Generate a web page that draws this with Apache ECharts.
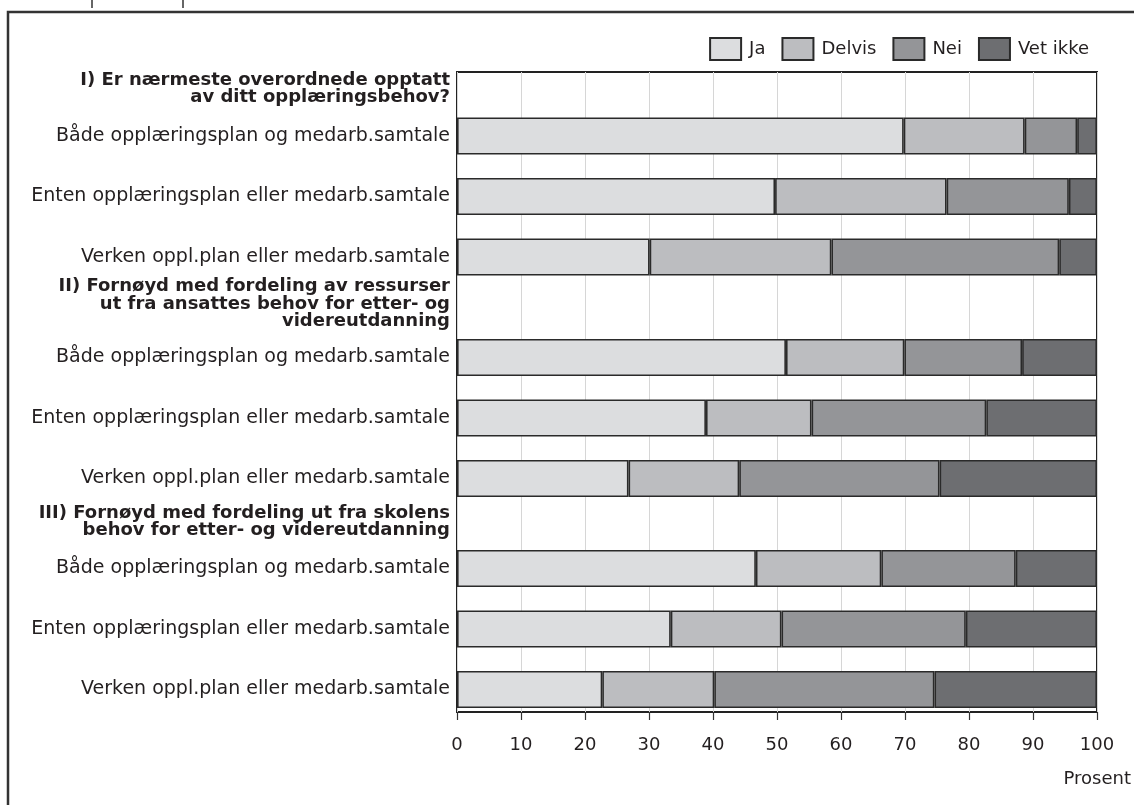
<!DOCTYPE html>
<html>
<head>
<meta charset="utf-8">
<script src="https://cdn.jsdelivr.net/npm/echarts@6/dist/echarts.min.js"></script>
<style>
html,body{margin:0;padding:0;background:#fff;}
#chart{width:1134px;height:805px;}
</style>
</head>
<body>
<div id="chart"></div>
<script>
const answers = ['Ja', 'Delvis', 'Nei', 'Vet ikke'];
const rowLabels = ['Både opplæringsplan og medarb.samtale', 'Enten opplæringsplan eller medarb.samtale', 'Verken oppl.plan eller medarb.samtale'];
const groupTitles = [
  'I) Er nærmeste overordnede opptatt\nav ditt opplæringsbehov?',
  'II) Fornøyd med fordeling av ressurser\nut fra ansattes behov for etter- og\nvidereutdanning',
  'III) Fornøyd med fordeling ut fra skolens\nbehov for etter- og videreutdanning'
];
const ja      = [69.8, 49.7, 30.1, 51.4, 38.9, 26.8, 46.7, 33.4, 22.7];
const delvis  = [18.9, 26.8, 28.4, 18.5, 16.5, 17.3, 19.6, 17.3, 17.5];
const nei     = [8.2, 19.1, 35.6, 18.4, 27.3, 31.3, 21.0, 28.8, 34.4];
const vetIkke = [3.1, 4.4, 5.9, 11.7, 17.3, 24.6, 12.7, 20.5, 25.4];
const xTicks = [0, 10, 20, 30, 40, 50, 60, 70, 80, 90, 100];

const colors = ['#dcdddf', '#bcbdc0', '#949598', '#6d6e71'];
const seriesValues = [ja, delvis, nei, vetIkke];
const FONT = 'DejaVu Sans';
const TXT = '#231f20';

const chart = echarts.init(document.getElementById('chart'), null, {renderer: 'canvas'});

const L = 457, R = 37;
const groupTops = [105.75, 327.25, 538.25];
const groupH = 181.5;
const titleY = [89, 304, 522];

const grids = [{left: L, right: R, top: 72, bottom: 93, show: true, borderColor: '#222', borderWidth: 2, backgroundColor: 'transparent'}];
const xAxes = [{
  gridIndex: 0, type: 'value', min: 0, max: 100, interval: 10, offset: 2,
  axisLine: {show: false},
  axisTick: {show: true, length: 8, lineStyle: {color: '#333', width: 1.2}},
  axisLabel: {margin: 22, fontFamily: FONT, fontSize: 18, color: TXT,
    formatter: v => xTicks.indexOf(v) >= 0 ? String(v) : ''},
  splitLine: {show: true, lineStyle: {color: '#d6d6d6', width: 1}}
}];
const yAxes = [{gridIndex: 0, type: 'value', show: false}];
const series = [];

for (let g = 0; g < 3; g++) {
  grids.push({left: L, right: R, top: groupTops[g], height: groupH});
  xAxes.push({gridIndex: g + 1, type: 'value', min: 0, max: 100, show: false});
  yAxes.push({
    gridIndex: g + 1, type: 'category', inverse: true, data: rowLabels,
    axisLine: {show: false}, axisTick: {show: false}, splitLine: {show: false},
    axisLabel: {margin: 7, fontFamily: FONT, fontSize: 19, color: TXT}
  });
  for (let k = 0; k < 4; k++) {
    series.push({
      type: 'bar', name: answers[k], stack: 'g' + g,
      xAxisIndex: g + 1, yAxisIndex: g + 1, barWidth: 37,
      itemStyle: {color: colors[k], borderColor: '#2a2a2a', borderWidth: 1.6},
      data: seriesValues[k].slice(g * 3, g * 3 + 3),
      animation: false
    });
  }
}

const graphics = [
  {type: 'rect', shape: {x: 8, y: 12, width: 1300, height: 1000}, style: {fill: 'none', stroke: '#333', lineWidth: 2.5}, silent: true},
  {type: 'line', shape: {x1: 92, y1: 0, x2: 92, y2: 8}, style: {stroke: '#333', lineWidth: 1.5}},
  {type: 'line', shape: {x1: 183, y1: 0, x2: 183, y2: 8}, style: {stroke: '#333', lineWidth: 1.5}},
  {type: 'text', right: 3, top: 770, style: {text: 'Prosent', font: '18px "' + FONT + '"', fill: TXT}}
];
groupTitles.forEach((t, i) => {
  graphics.push({
    type: 'text', x: 450, y: titleY[i],
    style: {text: t, font: 'bold 18px "' + FONT + '"', fill: TXT, textAlign: 'right', textVerticalAlign: 'middle', lineHeight: 17.5}
  });
});

chart.setOption({
  animation: false,
  textStyle: {fontFamily: FONT},
  legend: {
    data: answers, right: 40, top: 32, itemWidth: 31, itemHeight: 22, itemGap: 16,
    icon: 'rect',
    textStyle: {fontFamily: FONT, fontSize: 18, color: TXT, padding: [0, 0, 0, 3]}
  },
  grid: grids,
  xAxis: xAxes,
  yAxis: yAxes,
  series: series,
  graphic: graphics
});
</script>
</body>
</html>
